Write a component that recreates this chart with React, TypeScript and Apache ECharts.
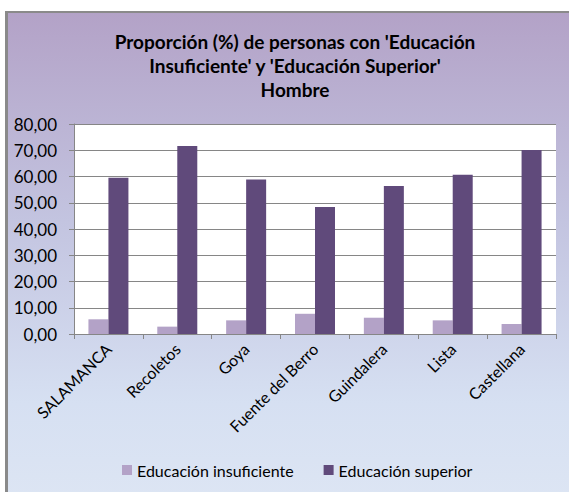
import React, { useEffect, useRef } from "react";
import * as echarts from "echarts";

const categories = ["SALAMANCA", "Recoletos", "Goya", "Fuente del Berro", "Guindalera", "Lista", "Castellana"];
const insuficiente = [5.6, 2.8, 5.2, 7.7, 6.2, 5.2, 3.8];
const superior = [59.5, 71.6, 58.9, 48.4, 56.4, 60.7, 70.1];
const seriesNames = ["Educación insuficiente", "Educación superior"];
const titleLines = ["Proporción (%) de personas con 'Educación", "Insuficiente' y 'Educación Superior'", "Hombre"];

const FONT = "Lato, 'Open Sans', sans-serif";

export default function App() {
  const ref = useRef<HTMLDivElement>(null);
  useEffect(() => {
    if (!ref.current) return;
    const chart = echarts.init(ref.current, null, { renderer: "svg" });
    chart.setOption({
      animation: false,
      textStyle: { fontFamily: FONT },
      graphic: [
        {
          type: "text",
          x: 295,
          y: 29,
          style: {
            text: titleLines.join("\n"),
            textAlign: "center",
            textVerticalAlign: "top",
            font: `bold 19px ${FONT}`,
            lineHeight: 24,
            fill: "#000",
          },
        },
      ],
      legend: {
        left: 117,
        top: 457,
        itemWidth: 10,
        itemHeight: 10,
        itemGap: 30,
        icon: "rect",
        textStyle: { fontSize: 16, color: "#000", fontFamily: FONT },
        data: seriesNames,
      },
      grid: {
        left: 74,
        right: 13,
        top: 124,
        bottom: 158,
        show: true,
        backgroundColor: "#ffffff",
        borderWidth: 0,
      },
      xAxis: {
        type: "category",
        data: categories,
        axisLine: { lineStyle: { color: "#868686", width: 1 } },
        axisTick: { show: true, length: 5, lineStyle: { color: "#868686" } },
        axisLabel: { rotate: 45, fontSize: 16, color: "#000", margin: 12, interval: 0, fontFamily: FONT },
      },
      yAxis: {
        type: "value",
        min: 0,
        max: 80,
        interval: 10,
        axisLine: { show: true, lineStyle: { color: "#868686" } },
        axisTick: { show: true, length: 5, lineStyle: { color: "#868686" } },
        splitLine: { lineStyle: { color: "#868686", width: 1 } },
        axisLabel: {
          fontSize: 17,
          color: "#000",
          margin: 17,
          fontFamily: FONT,
          formatter: (v: number) => v.toFixed(2).replace(".", ","),
        },
      },
      series: [
        {
          name: seriesNames[0],
          type: "bar",
          data: insuficiente,
          barWidth: 20,
          barGap: "0%",
          itemStyle: { color: "#b3a2c7" },
        },
        {
          name: seriesNames[1],
          type: "bar",
          data: superior,
          barWidth: 20,
          barGap: "0%",
          itemStyle: { color: "#604a7b" },
        },
      ],
    });
    return () => chart.dispose();
  }, []);

  return (
    <div style={{ position: "fixed", left: 0, top: 0, width: 569, height: 492, overflow: "hidden", background: "#fff" }}>
      <div
        style={{
          position: "absolute",
          left: 5,
          top: 11,
          width: 600,
          height: 520,
          borderLeft: "3px solid #8a8a8a",
          borderTop: "2px solid #8a8a8a",
          background: "linear-gradient(to bottom, #b3a2c7 0%, #c3c4e0 40%, #d6e0f2 75%, #dfe7f4 100%)",
        }}
      />
      <div ref={ref} style={{ position: "absolute", left: 0, top: 0, width: 569, height: 492 }} />
    </div>
  );
}
